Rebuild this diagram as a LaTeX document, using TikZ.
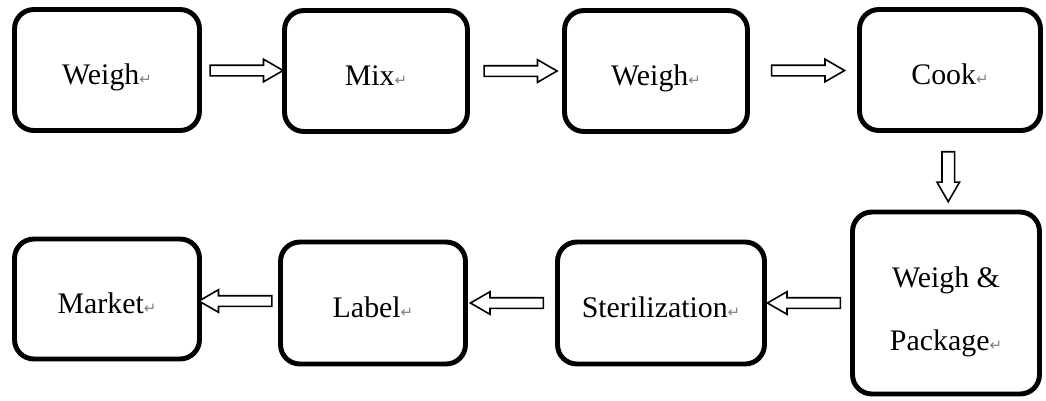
\documentclass[tikz,border=0pt]{standalone}
\usepackage{fontspec}
\setmainfont{Liberation Serif}
\newfontfamily\retfont{DejaVu Sans}
\usetikzlibrary{shapes.arrows}

% paragraph mark after each label
\newcommand{\retmark}{{\retfont\fontsize{8.5}{8.5}\selectfont\color{gray}↵}}

\tikzset{
  stagebox/.style={draw, line width=2.8pt, rounded corners=11pt, align=center},
  onebox/.style={stagebox, text height=16pt, text depth=0pt},
  harrow/.style={single arrow, draw, fill=white, line width=0.9pt, rotate=#1,
    minimum height=1.46cm, inner sep=0.09cm, single arrow head extend=0.12cm,
    single arrow tip angle=60}
}

\begin{document}
\begin{tikzpicture}[x=0.02cm, y=-0.02cm, font=\fontsize{17}{20}\selectfont]
    \useasboundingbox (0,0) rectangle (1046,400);

    % Top row
    \node[onebox, minimum width=3.7cm, minimum height=2.42cm] (weighA) at (107,70) {Weigh\retmark};
    \node[onebox, minimum width=3.66cm, minimum height=2.42cm] (mix) at (376,71) {Mix\retmark};
    \node[onebox, minimum width=3.66cm, minimum height=2.42cm] (weighB) at (656,71) {Weigh\retmark};
    \node[onebox, minimum width=3.62cm, minimum height=2.42cm] (cook) at (950,70) {Cook\retmark};

    % Bottom row
    \node[stagebox, minimum width=3.74cm, minimum height=3.64cm] (pack) at (946,303) {\rule{0pt}{22pt}Weigh \&\\[15.7pt]Package\retmark};
    \node[onebox, minimum width=4.14cm, minimum height=2.44cm] (steril) at (661,303) {Sterilization\retmark};
    \node[onebox, minimum width=3.7cm, minimum height=2.44cm] (label) at (373,303) {Label\retmark};
    \node[onebox, minimum width=3.7cm, minimum height=2.4cm] (market) at (107,299) {Market\retmark};

    % Hollow arrows between the stages
    \path (weighA) -- node[harrow=0] {} (mix);
    \path (mix) -- node[harrow=0] {} (weighB);
    \path (weighB) -- node[harrow=0] {} (cook);
    \path (cook) -- node[harrow=270, minimum height=1cm, inner sep=0.11cm, single arrow head extend=0.1cm] {} (pack);
    \path (pack) -- node[harrow=180] {} (steril);
    \path (steril) -- node[harrow=180] {} (label);
    \path (label) -- node[harrow=180] {} (market);
\end{tikzpicture}
\end{document}
